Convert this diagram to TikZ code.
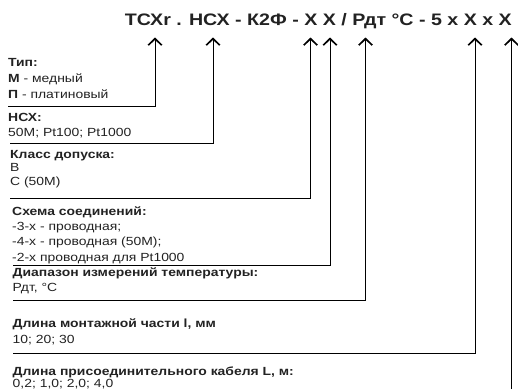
\documentclass[tikz,border=0pt]{standalone}
\usepackage{graphicx}
\usepackage{fontspec}
\setmainfont{Liberation Sans}[FakeStretch=1.18]
\usetikzlibrary{arrows.meta}
\definecolor{ink}{HTML}{222222}
\begin{document}
\begin{tikzpicture}[x=1pt,y=-1pt,
  lbl/.style={anchor=base west,inner sep=0pt,font=\fontsize{11.8}{14}\selectfont,text=ink},
  hdr/.style={anchor=base west,inner sep=0pt,font=\fontsize{11.8}{14}\selectfont\bfseries,text=ink},
  ttl/.style={anchor=base east,inner sep=0pt,font=\fontsize{16.5}{20}\selectfont\bfseries,text=ink},
  brk/.style={line width=0.9pt,draw=black},
  arr/.style={brk,-{Straight Barb[length=6.5pt,width=13.5pt,line width=1.7pt]}}]
\useasboundingbox (0,0) rectangle (518,389);

\node[ttl] (title) at (512,25) {\resizebox{387pt}{!}{ТСХr . НСХ - К2Ф - Х Х / Рдт °С - 5 х Х х Х}};

% arrow tips
\coordinate (t1) at (155,37.5);
\coordinate (t2) at (213,37.5);
\coordinate (t3) at (310.5,37.5);
\coordinate (t4) at (330,37.5);
\coordinate (t5) at (365.5,37.5);
\coordinate (t6) at (475,37.5);
\coordinate (t7) at (511.5,37.5);
% bracket starts
\coordinate (s1) at (8,106.5);
\coordinate (s2) at (10,143);
\coordinate (s3) at (10,198);
\coordinate (s4) at (13,265);
\coordinate (s5) at (13,300);
\coordinate (s6) at (13,353);
\coordinate (s7) at (511.5,389);

\draw[arr] (s1) -| (t1);
\draw[arr] (s2) -| (t2);
\draw[arr] (s3) -| (t3);
\draw[arr] (s4) -| (t4);
\draw[arr] (s5) -| (t5);
\draw[arr] (s6) -| (t6);
\draw[arr] (s7) -- (t7);

% block 1
\node[hdr] (a1) at (8,66.5) {Тип:};
\node[lbl] (a2) at (8,82.3) {\textbf{М} - медный};
\node[lbl] (a3) at (8,98.3) {\textbf{П} - платиновый};
% block 2
\node[hdr] (b1) at (8,121.7) {НСХ:};
\node[lbl] (b2) at (8,136) {50M; Pt100; Pt1000};
% block 3
\node[hdr] (c1) at (10,158.3) {Класс допуска:};
\node[lbl] (c2) at (10,171.7) {B};
\node[lbl] (c3) at (10,185) {C (50M)};
% block 4
\node[hdr] (d1) at (12,215) {Схема соединений:};
\node[lbl] (d2) at (12,230) {-3-х - проводная;};
\node[lbl] (d3) at (12,245.7) {-4-х - проводная (50M);};
\node[lbl] (d4) at (12,261) {-2-х проводная для Pt1000};
% block 5
\node[hdr] (e1) at (12.5,276.7) {Диапазон измерений температуры:};
\node[lbl] (e2) at (12.5,291) {Рдт, °С};
% block 6
\node[hdr] (f1) at (12.5,327) {Длина монтажной части l, мм};
\node[lbl] (f2) at (12.5,343) {10; 20; 30};
% block 7
\node[hdr] (g1) at (12.5,375.5) {Длина присоединительного кабеля L, м:};
\node[lbl] (g2) at (12.5,387.5) {0,2; 1,0; 2,0; 4,0};
\end{tikzpicture}
\end{document}
